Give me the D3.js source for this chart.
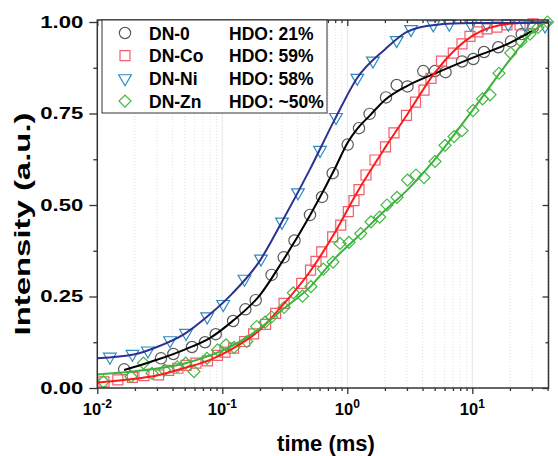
<!DOCTYPE html>
<html lang="en">
<head>
    <meta charset="utf-8">
    <title>Intensity vs time</title>
    <script src="https://d3js.org/d3.v7.min.js" charset="utf-8"></script>
    <style>
        body { margin: 0; background: #fff; }
        text { font-family: "Liberation Sans", Arial, sans-serif; font-weight: bold; fill: #000; }
    </style>
</head>
<body>
<svg id="chart" width="558" height="456"></svg>
<script type="text/javascript">
    // measured points [time (ms), intensity]
    var dn0 = [[0.0164,0.051],[0.0323,0.081],[0.0406,0.093],[0.0572,0.112],[0.0727,0.125],[0.0886,0.147],
               [0.122,0.183],[0.153,0.215],[0.185,0.240],[0.248,0.309],[0.310,0.357],[0.378,0.403],
               [0.503,0.473],[0.628,0.522],[0.764,0.587],[1.007,0.665],[1.241,0.710],[1.508,0.749],
               [2.04,0.794],[2.485,0.828],[3.03,0.824],[4.055,0.866],[5.03,0.866],[6.105,0.863],
               [8.27,0.892],[10.19,0.899],[12.41,0.918],[16.14,0.931],[20.4,0.947],[24.85,0.967],[30.6,0.986]];

    var dnCo = [[0.0113,0.017],[0.0146,0.022],[0.0191,0.029],[0.0236,0.034],[0.0309,0.036],[0.0373,0.048],
                [0.0442,0.054],[0.0513,0.062],[0.0616,0.068],[0.0761,0.074],[0.0916,0.089],[0.105,0.098],
                [0.123,0.109],[0.151,0.127],[0.178,0.148],[0.222,0.174],[0.267,0.204],[0.312,0.231],
                [0.432,0.286],[0.508,0.322],[0.562,0.346],[0.624,0.372],[0.764,0.413],[0.886,0.445],
                [1.019,0.482],[1.131,0.512],[1.241,0.542],[1.411,0.582],[1.666,0.623],[2.021,0.659],
                [2.363,0.697],[2.976,0.745],[3.513,0.781],[4.108,0.814],[4.673,0.846],[5.669,0.893],
                [7.047,0.915],[8.272,0.940],[9.585,0.961],[11.11,0.973],[13.11,0.981],[15.76,0.986],
                [18.95,0.992],[24.08,0.992],[30.59,0.995]];

    var dnNi = [[0.0126,0.085],[0.0191,0.093],[0.0254,0.102],[0.0382,0.130],[0.0513,0.150],[0.0757,0.195],
                [0.1017,0.229],[0.1505,0.298],[0.204,0.353],[0.300,0.454],[0.403,0.534],[0.605,0.650],
                [0.812,0.740],[1.202,0.847],[1.605,0.894],[2.485,0.950],[3.234,0.980],[4.875,0.993],
                [6.546,0.995],[9.71,0.995],[13.04,0.995],[19.41,0.995],[26.41,0.993],[38.15,0.990]];

    var dnZn = [[0.0112,0.017],[0.0186,0.031],[0.0234,0.068],[0.0274,0.040],[0.0345,0.049],[0.0436,0.058],
                [0.0510,0.068],[0.0594,0.045],[0.0754,0.081],[0.0916,0.104],[0.107,0.118],[0.124,0.111],
                [0.157,0.127],[0.188,0.168],[0.220,0.180],[0.248,0.194],[0.312,0.220],[0.370,0.260],
                [0.438,0.251],[0.512,0.277],[0.643,0.325],[0.769,0.344],[0.874,0.395],[1.032,0.398],
                [1.28,0.422],[1.547,0.454],[1.816,0.467],[2.078,0.500],[2.498,0.521],[3.031,0.568],
                [3.545,0.582],[4.108,0.575],[5.03,0.619],[6.049,0.663],[7.138,0.687],[8.272,0.703],
                [10.13,0.758],[12.07,0.790],[13.86,0.801],[16.35,0.860],[20.29,0.915],[24.53,0.947],
                [28.94,0.967],[33.54,0.985],[39.96,1.0]];

    // fitted curves
    var fit0 = [[0.0164,0.049],[0.02,0.058],[0.03,0.077],[0.05,0.105],[0.08,0.137],[0.12,0.182],[0.2,0.254],
                [0.3,0.344],[0.5,0.47],[0.8,0.601],[1,0.669],[1.2,0.708],[1.5,0.743],[2,0.787],[3,0.825],
                [5,0.859],[10,0.902],[20,0.943],[30,0.975]];
    var fitCo = [[0.01,0.015],[0.02,0.025],[0.03,0.034],[0.05,0.055],[0.08,0.077],[0.12,0.107],[0.2,0.159],
                 [0.3,0.224],[0.5,0.317],[0.8,0.426],[1.2,0.535],[2,0.656],[3,0.746],[5,0.861],[10,0.962],
                 [20,0.995],[40.7,1.0]];
    var fitNi = [[0.01,0.081],[0.02,0.092],[0.03,0.112],[0.05,0.148],[0.08,0.202],[0.12,0.258],[0.2,0.348],
                 [0.3,0.454],[0.5,0.596],[0.8,0.736],[1.2,0.847],[2,0.925],[3,0.973],[5,0.992],[10,0.997],
                 [40.7,0.998]];
    var fitZn = [[0.01,0.037],[0.02,0.046],[0.03,0.053],[0.05,0.067],[0.08,0.089],[0.12,0.115],[0.2,0.163],
                 [0.3,0.213],[0.5,0.275],[0.8,0.355],[1.2,0.412],[2,0.485],[3,0.54],[5,0.624],[10,0.758],
                 [20,0.897],[30,0.971],[40.7,1.005]];

    var names = ["DN-0", "DN-Co", "DN-Ni", "DN-Zn"];
    var hdo = ["HDO: 21%", "HDO: 59%", "HDO: 58%", "HDO: ~50%"];
    var yTicks = [0, 0.25, 0.5, 0.75, 1.0];
    var xDecades = [0.01, 0.1, 1, 10];
    var xExps = ["-2", "-1", "0", "1"];

    var series = [
        {pts: dn0,  fit: fit0,  sym: d3.symbolCircle,   size: 100, rot: 0,   mark: "#5a5a5a", line: "#000000"},
        {pts: dnCo, fit: fitCo, sym: d3.symbolSquare,   size: 100, rot: 0,   mark: "#f0606e", line: "#ff1a1a"},
        {pts: dnNi, fit: fitNi, sym: d3.symbolTriangle, size: 70,  rot: 180, mark: "#2e8bc0", line: "#2e3192"},
        {pts: dnZn, fit: fitZn, sym: d3.symbolSquare,   size: 72,  rot: 45,  mark: "#45b845", line: "#3cb43c"}
    ];

    var L = 97.3, R = 548.5, T = 20, B = 388;
    var svg = d3.select("#chart");
    var x = d3.scaleLog().domain([0.01, 40.7]).range([L, R]);
    var y = d3.scaleLinear().domain([0, 1.0055]).range([B, T]);

    var minors = [];
    xDecades.forEach(function(d) {
        for (var m = 2; m <= 9; m++) if (m * d <= 40.7) minors.push(m * d);
    });
    var yMinors = [0.125, 0.375, 0.625, 0.875];

    // vertical grid
    svg.append("g").selectAll("line").data(minors).join("line")
        .attr("x1", d => x(d)).attr("x2", d => x(d)).attr("y1", T).attr("y2", B)
        .attr("stroke", "#e0e0e0").attr("stroke-dasharray", "1,2");
    svg.append("g").selectAll("line").data(xDecades.slice(1)).join("line")
        .attr("x1", d => x(d)).attr("x2", d => x(d)).attr("y1", T).attr("y2", B)
        .attr("stroke", "#e6e6e6");

    svg.append("clipPath").attr("id", "clip")
        .append("rect").attr("x", L).attr("y", T).attr("width", R - L).attr("height", B - T);

    // markers
    series.forEach(function(s) {
        svg.append("g").selectAll("path").data(s.pts).join("path")
            .attr("d", d3.symbol(s.sym, s.size))
            .attr("transform", d => "translate(" + x(d[0]) + "," + y(d[1]) + ") rotate(" + s.rot + ")")
            .attr("fill", "none").attr("stroke", s.mark).attr("stroke-width", 1.2);
    });

    // fit lines
    var line = d3.line().x(d => x(d[0])).y(d => y(d[1])).curve(d3.curveMonotoneX);
    series.forEach(function(s) {
        svg.append("path").attr("clip-path", "url(#clip)")
            .attr("d", line(s.fit))
            .attr("fill", "none").attr("stroke", s.line).attr("stroke-width", 2);
    });

    // axes
    function ax(g) { g.select(".domain").remove(); g.selectAll("line").attr("stroke", "#333").attr("stroke-width", 1.3); }
    svg.append("g").attr("transform", "translate(0," + B + ")")
        .call(d3.axisBottom(x).tickValues(xDecades).tickSize(6).tickFormat("")).call(ax);
    svg.append("g").attr("transform", "translate(0," + B + ")")
        .call(d3.axisBottom(x).tickValues(minors).tickSize(3).tickFormat("")).call(ax);
    svg.append("g").attr("transform", "translate(0," + T + ")")
        .call(d3.axisTop(x).tickValues(xDecades).tickSize(-6).tickFormat("")).call(ax);
    svg.append("g").attr("transform", "translate(0," + T + ")")
        .call(d3.axisTop(x).tickValues(minors).tickSize(-3).tickFormat("")).call(ax);

    var yl = svg.append("g").attr("transform", "translate(" + L + ",0)")
        .call(d3.axisLeft(y).tickValues(yTicks).tickSize(8).tickPadding(6).tickFormat(d3.format(".2f")));
    yl.call(ax);
    yl.selectAll("text").attr("font-size", 16).attr("textLength", 43)
        .attr("lengthAdjust", "spacingAndGlyphs").style("font-family", null);
    svg.append("g").attr("transform", "translate(" + L + ",0)")
        .call(d3.axisLeft(y).tickValues(yMinors).tickSize(4).tickFormat("")).call(ax);
    svg.append("g").attr("transform", "translate(" + R + ",0)")
        .call(d3.axisRight(y).tickValues(yTicks).tickSize(-6).tickFormat("")).call(ax);
    svg.append("g").attr("transform", "translate(" + R + ",0)")
        .call(d3.axisRight(y).tickValues(yMinors).tickSize(-3).tickFormat("")).call(ax);

    // frame
    svg.append("rect").attr("x", L).attr("y", T).attr("width", R - L).attr("height", B - T)
        .attr("fill", "none").attr("stroke", "#333").attr("stroke-width", 1.5);

    // x tick labels 10^n
    var xl = svg.append("g").selectAll("text").data(xDecades).join("text")
        .attr("x", d => x(d)).attr("y", 415).attr("text-anchor", "middle").attr("font-size", 16.5);
    xl.append("tspan").text("10");
    xl.append("tspan").attr("dy", -7).attr("font-size", 12).text((d, i) => xExps[i]);

    // axis titles
    svg.append("text").attr("x", 326).attr("y", 451).attr("text-anchor", "middle")
        .attr("font-size", 22).text("time (ms)");
    svg.append("text").attr("transform", "translate(30,224) rotate(-90)").attr("text-anchor", "middle")
        .attr("font-size", 22).attr("textLength", 223).attr("lengthAdjust", "spacingAndGlyphs")
        .text("Intensity (a.u.)");

    // legend
    var lg = svg.append("g");
    lg.append("rect").attr("x", 102).attr("y", 20).attr("width", 225).attr("height", 93)
        .attr("fill", "#fff").attr("stroke", "#333").attr("stroke-width", 1);
    series.forEach(function(s, i) {
        var cy = 33 + i * 22.7;
        lg.append("path").attr("d", d3.symbol(s.sym, s.size))
            .attr("transform", "translate(125," + cy + ") rotate(" + s.rot + ")")
            .attr("fill", "none").attr("stroke", s.mark).attr("stroke-width", 1.2);
        lg.append("text").attr("x", 149).attr("y", cy + 6.5).attr("font-size", 17.5).text(names[i]);
        lg.append("text").attr("x", 229).attr("y", cy + 6.5).attr("font-size", 17.5).text(hdo[i]);
    });
</script>
</body>
</html>
